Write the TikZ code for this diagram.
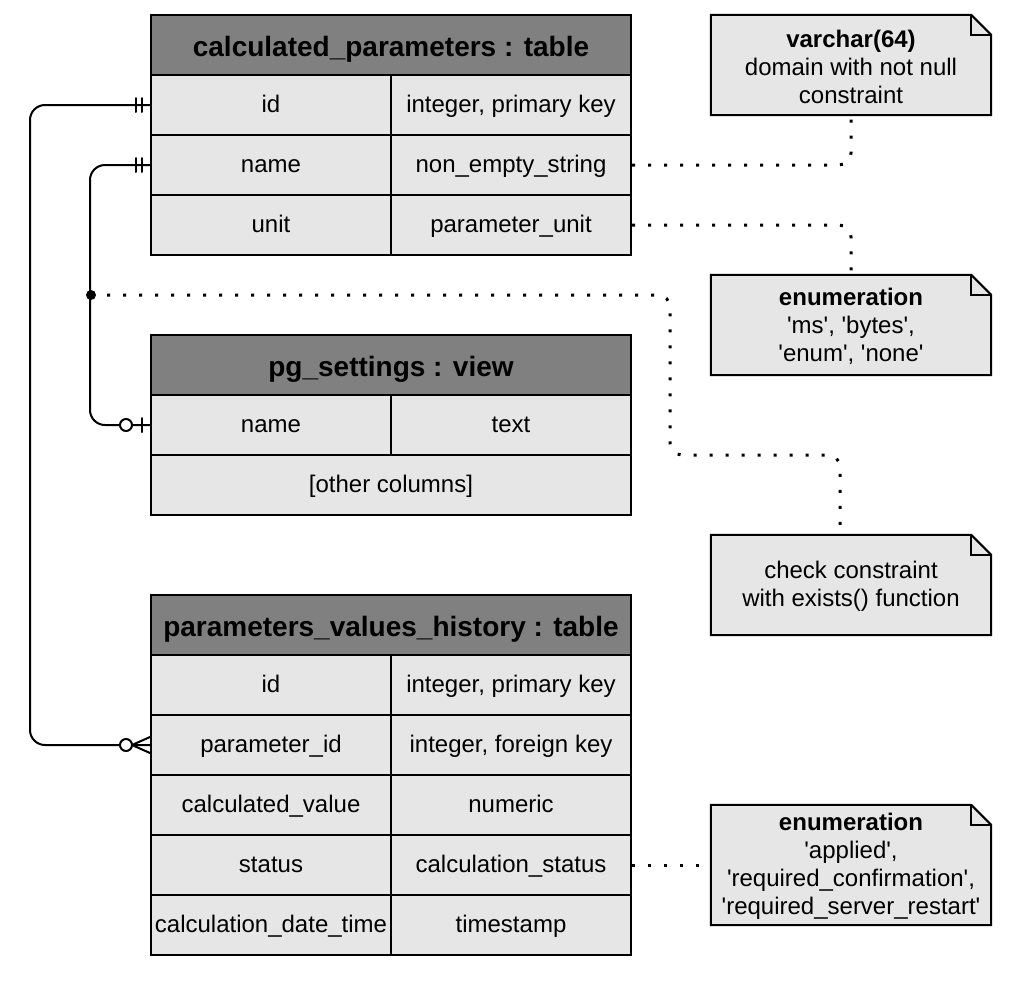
\documentclass[tikz,border=0pt]{standalone}
\usepackage{fontspec}
\setmainfont{Liberation Sans}
\usetikzlibrary{backgrounds,calc}
\definecolor{hdrgray}{RGB}{128,128,128}
\definecolor{cellgray}{RGB}{230,230,230}
\newcommand\sq{\textquotesingle}
\newcommand\drawnote[1]{%
  \begin{pgfonlayer}{background}
  \draw[line width=2pt, fill=cellgray] (#1.north west) -- ([xshift=-20pt]#1.north east) -- ([yshift=-20pt]#1.north east) -- (#1.south east) -- (#1.south west) -- cycle;
  \draw[line width=2pt] ([xshift=-20pt]#1.north east) |- ([yshift=-20pt]#1.north east);
  \end{pgfonlayer}}
\begin{document}
\begin{tikzpicture}[x=1pt,y=-1pt,
  cell/.style={draw, line width=2pt, fill=cellgray, minimum width=240pt, minimum height=60pt, inner sep=0pt, text height=20pt, text depth=5pt, font=\fontsize{24}{28}\selectfont},
  wide/.style={cell, minimum width=480pt},
  hdr/.style={draw, line width=2pt, fill=hdrgray, minimum width=480pt, minimum height=60pt, inner sep=0pt, text height=27pt, text depth=5pt, font=\fontsize{28}{32}\selectfont\bfseries},
  notebox/.style={minimum width=280pt, minimum height=100pt, inner sep=0pt, align=center, font=\fontsize{24}{28}\selectfont},
  notetext/.style={inner sep=0pt, align=center, font=\fontsize{24}{28}\selectfont},
  conn/.style={line width=2pt, line cap=round},
  dots/.style={line width=3pt, dash pattern=on 3pt off 13pt, rounded corners=12pt}
]
\useasboundingbox (0,0) rectangle (1018,986);

% calculated_parameters
\node[hdr] (cph) at (391,45) {calculated\_parameters : table};
\node[cell] (cp-id) at (271,105) {id};
\node[cell] (cp-id-t) at (511,105) {integer, primary key};
\node[cell] (cp-name) at (271,165) {name};
\node[cell] (cp-name-t) at (511,165) {non\_empty\_string};
\node[cell] (cp-unit) at (271,225) {unit};
\node[cell] (cp-unit-t) at (511,225) {parameter\_unit};

% pg_settings
\node[hdr] (pgh) at (391,365) {pg\_settings : view};
\node[cell] (pg-name) at (271,425) {name};
\node[cell] (pg-name-t) at (511,425) {text};
\node[wide] (pg-other) at (391,485) {[other columns]};

% parameters_values_history
\node[hdr] (pvh) at (391,625) {parameters\_values\_history : table};
\node[cell] (pvh-id) at (271,685) {id};
\node[cell] (pvh-id-t) at (511,685) {integer, primary key};
\node[cell] (pvh-pid) at (271,745) {parameter\_id};
\node[cell] (pvh-pid-t) at (511,745) {integer, foreign key};
\node[cell] (pvh-cv) at (271,805) {calculated\_value};
\node[cell] (pvh-cv-t) at (511,805) {numeric};
\node[cell] (pvh-st) at (271,865) {status};
\node[cell] (pvh-st-t) at (511,865) {calculation\_status};
\node[cell] (pvh-dt) at (271,925) {calculation\_date\_time};
\node[cell] (pvh-dt-t) at (511,925) {timestamp};

% notes
\node[notebox] (vc) at (851,65) {};
\node[notetext] at ([yshift=-1.5pt]vc.center) {\textbf{varchar(64)}\\domain with not null\\constraint};
\drawnote{vc}
\node[notebox] (en1) at (851,325) {};
\node[notetext] at ([yshift=-1.5pt]en1.center) {\textbf{enumeration}\\\sq ms\sq, \sq bytes\sq,\\\sq enum\sq, \sq none\sq};
\drawnote{en1}
\node[notebox] (ck) at (851,585) {};
\node[notetext] at ([yshift=-1.5pt]ck.center) {check constraint\\with exists() function};
\drawnote{ck}
\node[notebox, minimum height=120pt] (en2) at (851,865) {};
\node[notetext] at ([yshift=-1.5pt]en2.center) {\textbf{enumeration}\\\sq applied\sq,\\\sq required\_confirmation\sq,\\\sq required\_server\_restart\sq};
\drawnote{en2}

% relationship id -> parameter_id
\draw[conn, rounded corners=15pt] (cp-id.west) -- ++(-120,0) |- (pvh-pid.west);
\draw[conn] ([xshift=-14pt,yshift=-7pt]cp-id.west) -- ([xshift=-14pt,yshift=7pt]cp-id.west);
\draw[conn] ([xshift=-8pt,yshift=-7pt]cp-id.west) -- ([xshift=-8pt,yshift=7pt]cp-id.west);
\draw[conn] ([yshift=8pt]pvh-pid.west) -- ([xshift=-18pt]pvh-pid.west) -- ([yshift=-8pt]pvh-pid.west);
\draw[conn, fill=white] ([xshift=-24pt]pvh-pid.west) circle[radius=6pt];

% relationship name -> pg_settings.name
\draw[conn, rounded corners=15pt] (cp-name.west) -- ++(-60,0) |- (pg-name.west);
\draw[conn] ([xshift=-14pt,yshift=-7pt]cp-name.west) -- ([xshift=-14pt,yshift=7pt]cp-name.west);
\draw[conn] ([xshift=-8pt,yshift=-7pt]cp-name.west) -- ([xshift=-8pt,yshift=7pt]cp-name.west);
\draw[conn] ([xshift=-8pt,yshift=-7pt]pg-name.west) -- ([xshift=-8pt,yshift=7pt]pg-name.west);
\draw[conn, fill=white] ([xshift=-24pt]pg-name.west) circle[radius=6pt];

% junction and check-constraint note link
\node[circle, fill, inner sep=0pt, minimum size=10pt] (jn) at (91,295) {};
\draw[dots] (jn.center) -- (670,295) -- (670,455) -- (840,455) -- ($(ck.north)+(-11,0)$);

% note links
\draw[dots] (cp-name-t.east) -| (vc.south);
\draw[dots] (cp-unit-t.east) -| (en1.north);
\draw[dots] (pvh-st-t.east) -- (en2.west);
\end{tikzpicture}
\end{document}
